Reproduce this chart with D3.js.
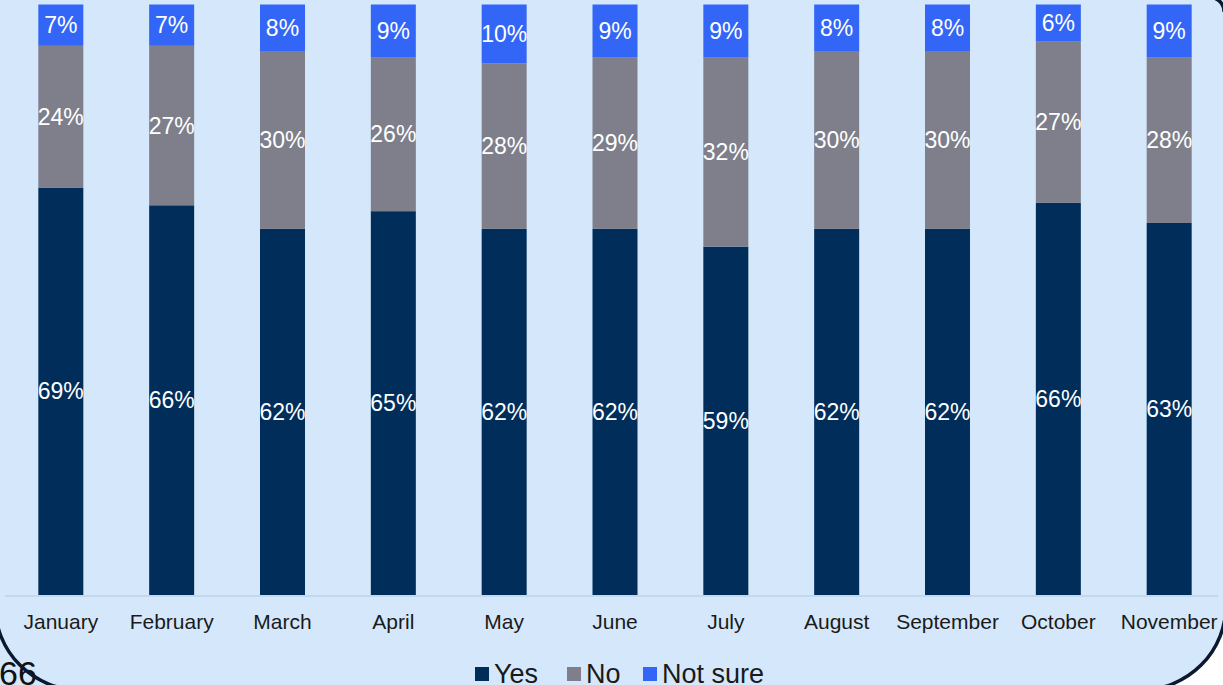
<!DOCTYPE html>
<html><head><meta charset="utf-8">
<script src="https://cdn.jsdelivr.net/npm/d3@7"></script>
<style>html,body{margin:0;padding:0;background:#d5e8fb;}svg{display:block;}</style>
</head><body>
<svg id="c" width="1223" height="685"></svg>
<script>
const months = ["January","February","March","April","May","June","July","August","September","October","November"];
const yes    = [69, 66, 62, 65, 62, 62, 59, 62, 62, 66.4, 63];
const no     = [24, 27, 30, 26, 28, 29, 32, 30, 30, 27.4, 28];
const notSure= [7, 7, 8, 9, 10, 9, 9, 8, 8, 6.2, 9];
const seriesNames = ["Yes","No","Not sure"];
const colors = ["#012d5b","#7e7f8b","#3366f6"];

const svg = d3.select("#c");
const W = 1223, H = 685;
svg.append("rect").attr("width",W).attr("height",H).attr("fill","#d5e8fb");

const x = d3.scaleBand().domain(months).range([5.4,1224.6]).paddingInner(0.594).paddingOuter(0.297);
const y = d3.scaleLinear().domain([0,100]).range([595,4.5]);

const rows = months.map((m,i)=>({month:m, "Yes":yes[i], "No":no[i], "Not sure":notSure[i]}));
const stacked = d3.stack().keys(seriesNames)(rows);

// axis baseline
svg.append("line").attr("x1",5).attr("x2",1218).attr("y1",y(0)+1).attr("y2",y(0)+1)
  .attr("stroke","#bed3e9").attr("stroke-width",1.5);

const g = svg.append("g");
stacked.forEach((s,si)=>{
  g.selectAll(null).data(s).enter().append("rect")
    .attr("x",d=>x(d.data.month)).attr("width",x.bandwidth())
    .attr("y",d=>y(d[1])).attr("height",d=>y(d[0])-y(d[1]))
    .attr("fill",colors[si]);
  g.selectAll(null).data(s).enter().append("text")
    .attr("x",d=>x(d.data.month)+x.bandwidth()/2)
    .attr("y",d=>(y(d[0])+y(d[1]))/2+8)
    .attr("text-anchor","middle").attr("fill","#ffffff")
    .attr("font-family","Liberation Sans, Arial, sans-serif").attr("font-size",23)
    .text(d=>Math.round(d[1]-d[0])+"%");
});

// category axis
const xAxis = d3.axisBottom(x).tickSize(0).tickPadding(0);
const ax = svg.append("g").attr("transform","translate(0,614)").call(xAxis);
ax.select(".domain").remove();
ax.selectAll("text").attr("dy",0).attr("y",15)
  .attr("font-family","Liberation Sans, Arial, sans-serif").attr("font-size",21).attr("fill","#1a1a1a");

// legend
const legX = [475, 567, 643];
const lg = svg.append("g");
seriesNames.forEach((n,i)=>{
  lg.append("rect").attr("x",legX[i]).attr("y",667).attr("width",14).attr("height",14).attr("fill",colors[i]);
  lg.append("text").attr("x",legX[i]+19).attr("y",683)
    .attr("font-family","Liberation Sans, Arial, sans-serif").attr("font-size",27).attr("fill","#1a1a1a").text(n);
});

// frame: rounded rectangle border with white outside at bottom-right
const R = 85, L = -5, Rt = 1226, B = 690;
svg.append("path")
  .attr("d",`M${Rt+10},${B-R-40} L${Rt},${B-R-40} L${Rt},${B-R} A${R},${R} 0 0 1 ${Rt-R},${B} L${Rt-R},${H+10} L${W+10},${H+10} Z`)
  .attr("fill","#ffffff");
svg.append("text").attr("x",-1).attr("y",685)
  .attr("font-family","Liberation Sans, Arial, sans-serif").attr("font-size",34).attr("fill","#111").text("66");
svg.append("path")
  .attr("d",`M${L},-20 L${L},${B-R} A${R},${R} 0 0 0 ${L+R},${B} L${Rt-R},${B} A${R},${R} 0 0 0 ${Rt},${B-R} L${Rt},10`)
  .attr("fill","none").attr("stroke","#0b1830").attr("stroke-width",3.5);
svg.append("path").attr("d","M1214,-2 A14,14 0 0 1 1224,12")
  .attr("fill","none").attr("stroke","#0b1830").attr("stroke-width",3.5);
</script>
</body></html>
